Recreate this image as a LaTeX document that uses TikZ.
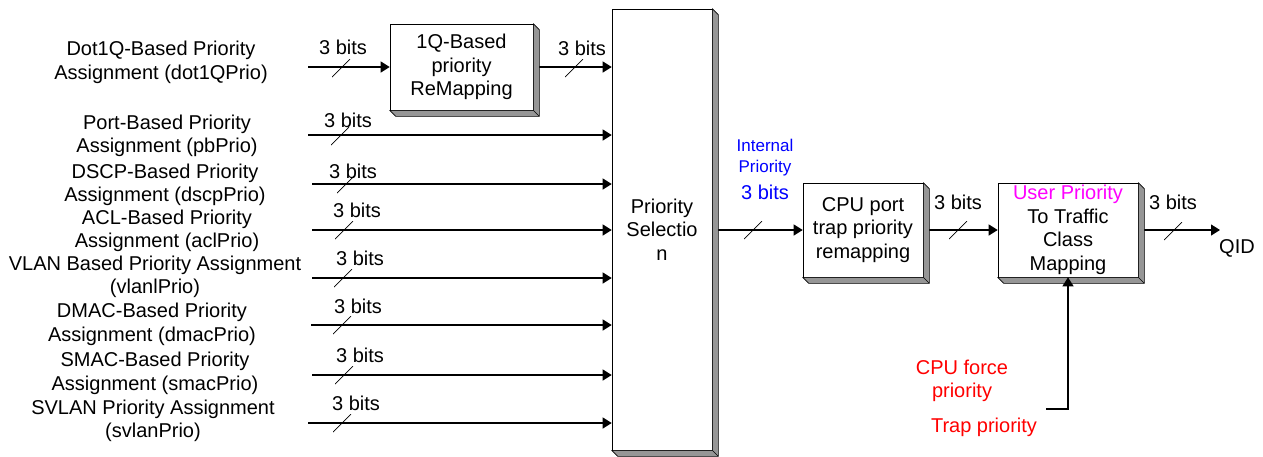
\documentclass[tikz,border=0pt]{standalone}
\usepackage{fontspec}
\setmainfont{Liberation Sans}
\usetikzlibrary{arrows.meta, positioning}
\definecolor{bevelgray}{RGB}{150,150,150}
\definecolor{userpink}{RGB}{255,0,255}

% grey 3D edge on the right and bottom of a box
\newcommand{\bevel}[1]{%
  \filldraw[fill=bevelgray, draw=black, line width=0.6pt, line join=round]
    (#1.north east) -- ([shift={(6,6)}]#1.north east)
    -- ([shift={(6,6)}]#1.south east) -- ([shift={(6,6)}]#1.south west)
    -- (#1.south west) -- (#1.south east) -- cycle;
  \draw[line width=0.6pt] (#1.south east) -- ([shift={(6,6)}]#1.south east);}

\begin{document}
\begin{tikzpicture}[x=1pt, y=-1pt,
    every node/.style={font=\fontsize{20}{23.5}\selectfont},
    box/.style={draw, fill=white, line width=0.6pt, inner sep=0, align=center},
    src/.style={align=center, inner sep=0},
    wire/.style={line width=1.2pt, -{Triangle[length=9pt, width=11pt]}},
    bus/.style={minimum size=18, inner sep=0, path picture={\draw[line width=0.7pt]
        (path picture bounding box.south west) -- (path picture bounding box.north east);}},
    bits/.style={inner sep=0}]
  \useasboundingbox (0,0) rectangle (1263,456);

  % Draw the boxes
  \node[box, minimum width=143, minimum height=86] (remap) at (461.5,67) {1Q-Based\\priority\\ReMapping};
  \node[box, minimum width=100, minimum height=441] (sel) at (662,229.5) {Priority\\Selectio\\n};
  \node[box, minimum width=120, minimum height=94] (cpu) at (863,230) {CPU port\\trap priority\\remapping};
  \node[box, minimum width=140, minimum height=94] (user) at (1068,230)
    {\textcolor{userpink}{User Priority}\\To Traffic\\Class\\Mapping};

  % Draw the priority sources
  \node[src] (dot) at (161,62.5) {Dot1Q-Based Priority\\Assignment (dot1QPrio)};
  \node[src] (pb) at (167,136) {Port-Based Priority\\Assignment (pbPrio)};
  \node[src] (dscp) at (165,185) {DSCP-Based Priority\\Assignment (dscpPrio)};
  \node[src] (acl) at (167,231) {ACL-Based Priority\\Assignment (aclPrio)};
  \node[src] (vlan) at (155,277) {VLAN Based Priority Assignment\\(vlanlPrio)};
  \node[src] (dmac) at (152,324.5) {DMAC-Based Priority\\Assignment (dmacPrio)};
  \node[src] (smac) at (155,373.5) {SMAC-Based Priority\\Assignment (smacPrio)};
  \node[src] (svlan) at (153,421) {SVLAN Priority Assignment\\(svlanPrio)};

  \coordinate (dotin) at (308,67);
  \coordinate (pbin) at (308,135);
  \coordinate (dscpin) at (312,184);
  \coordinate (aclin) at (312,230);
  \coordinate (vlanin) at (312,278);
  \coordinate (dmacin) at (311,325);
  \coordinate (smacin) at (312,375);
  \coordinate (svlanin) at (308,423);

  % Draw the wires entering the selection
  \draw[wire] (dotin) -- (remap.west);
  \draw[wire] (remap.east) -- (remap.east -| sel.west);
  \draw[wire] (pbin) -- (pbin -| sel.west);
  \draw[wire] (dscpin) -- (dscpin -| sel.west);
  \draw[wire] (aclin) -- (aclin -| sel.west);
  \draw[wire] (vlanin) -- (vlanin -| sel.west);
  \draw[wire] (dmacin) -- (dmacin -| sel.west);
  \draw[wire] (smacin) -- (smacin -| sel.west);
  \draw[wire] (svlanin) -- (svlanin -| sel.west);

  \node[bus] (dotbus) at (341,68) {};
  \node[bits] (dotbits) at (343,47) {3 bits};
  \node[bus] (remapbus) at (574,68) {};
  \node[bits] (remapbits) at (582,48) {3 bits};
  \node[bus] (pbbus) at (340,136) {};
  \node[bits] (pbbits) at (348,120) {3 bits};
  \node[bus] (dscpbus) at (346,184) {};
  \node[bits] (dscpbits) at (353,171) {3 bits};
  \node[bus] (aclbus) at (344,230) {};
  \node[bits] (aclbits) at (357,210) {3 bits};
  \node[bus] (vlanbus) at (343,278) {};
  \node[bits] (vlanbits) at (360,258) {3 bits};
  \node[bus] (dmacbus) at (342,325) {};
  \node[bits] (dmacbits) at (358,306) {3 bits};
  \node[bus] (smacbus) at (344,375) {};
  \node[bits] (smacbits) at (360,355) {3 bits};
  \node[bus] (svlanbus) at (342,423) {};
  \node[bits] (svlanbits) at (356,403) {3 bits};

  % Draw the wires after the selection
  \draw[wire] (sel.east |- cpu.west) -- (cpu.west);
  \node[bus] (intbus) at (753,230) {};
  \node[bits, blue, font=\fontsize{17}{21}\selectfont, align=center] (intlbl) at (765,157.5) {Internal\\Priority};
  \node[bits, blue] (intbits) at (765,192) {3 bits};

  \draw[wire] (cpu.east) -- (user.west);
  \node[bus] (cpubus) at (958,230) {};
  \node[bits] (cpubits) at (958,202) {3 bits};

  \coordinate (qid) at (1220,230);
  \draw[wire] (user.east) -- (qid);
  \node[bus] (userbus) at (1173,231) {};
  \node[bits] (userbits) at (1173,202) {3 bits};
  \node[bits] (qidlbl) at (1237,248) {QID};

  \bevel{remap}
  \bevel{sel}
  \bevel{cpu}
  \bevel{user}

  % CPU force priority into the mapping
  \coordinate (force) at (1046,409);
  \draw[wire] (force) -| (user.south);
  \node[bits, red, align=center] (cpuforce) at (962,381) {CPU force\\priority};
  \node[bits, red] (trap) at (984,427) {Trap priority};
\end{tikzpicture}
\end{document}
